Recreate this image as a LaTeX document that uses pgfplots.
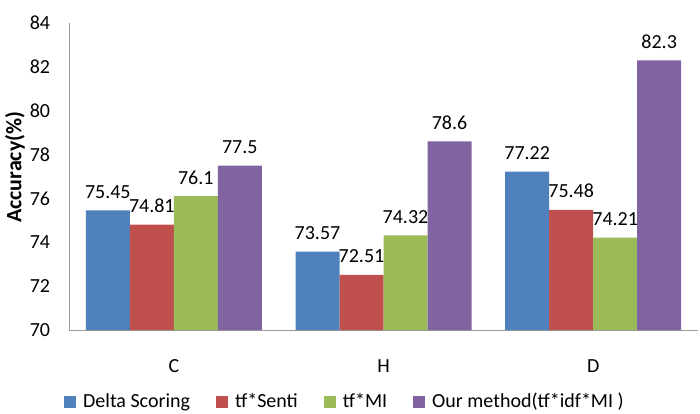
\documentclass[border=0pt]{standalone}
\usepackage{fontspec}
\setmainfont{Carlito}
\usepackage{pgfplots}
\pgfplotsset{compat=1.18}
\definecolor{cB}{HTML}{4F81BD}
\definecolor{cR}{HTML}{C0504D}
\definecolor{cG}{HTML}{9BBB59}
\definecolor{cP}{HTML}{8064A2}
\begin{document}
\fontsize{20}{24}\selectfont
\begin{tikzpicture}
\begin{axis}[
  scale only axis, width=629pt, height=307pt,
  at={(0,0)}, anchor=south west,
  ybar=0pt, bar width=44pt,
  xmin=-0.5, xmax=2.5, ymin=70, ymax=84,
  enlargelimits=false,
  xtick={0,1,2}, xticklabels={C,H,D},
  ytick={70,72,...,84},
  axis x line*=bottom, axis y line*=left,
  axis line style={draw=gray!80,-},
  major tick length=0pt,
  tick style={draw=none},
  /pgf/number format/assume math mode=true,
  ticklabel style={font=\fontsize{20}{24}\selectfont},
  yticklabel style={xshift=-12pt},
  xticklabel style={yshift=-23pt},
  ylabel={\textbf{Accuracy(\%)}},
  ylabel style={at={(axis description cs:-0.086,0.53)}, anchor=center, font=\fontsize{22}{26}\selectfont},
  point meta=explicit symbolic,
  nodes near coords,
  nodes near coords style={font=\fontsize{20}{24}\selectfont, text=black, anchor=south, yshift=5pt},
  legend style={at={(axis description cs:-0.008,-0.2345)}, anchor=west, draw=none, fill=none,
     inner sep=0pt, font=\fontsize{20}{24}\selectfont,
     /tikz/every odd column/.append style={column sep=5pt},
     /tikz/every even column/.append style={column sep=24pt}},
  legend columns=-1,
  legend image code/.code={\fill[#1] (0pt,-6pt) rectangle (12pt,6pt);},
]
\addplot[fill=cB, draw=none] coordinates {(0,75.45) [75.45] (1,73.57) [73.57] (2,77.22) [77.22]};
\addplot[fill=cR, draw=none] coordinates {(0,74.81) [74.81] (1,72.51) [72.51] (2,75.48) [75.48]};
\addplot[fill=cG, draw=none] coordinates {(0,76.1) [76.1] (1,74.32) [74.32] (2,74.21) [74.21]};
\addplot[fill=cP, draw=none] coordinates {(0,77.5) [77.5] (1,78.6) [78.6] (2,82.3) [82.3]};
\legend{Delta Scoring, tf*Senti, tf*MI, Our method(tf*idf*MI )}
\end{axis}
\pgfresetboundingbox
\path (-69pt,-83pt) rectangle (631pt,330pt);
\end{tikzpicture}
\end{document}
